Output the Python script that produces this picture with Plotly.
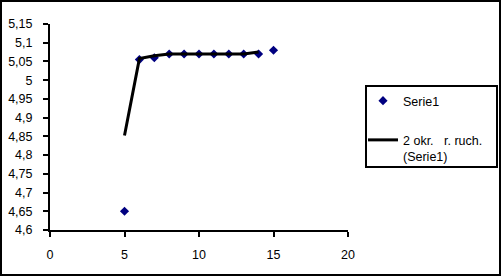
import plotly.graph_objects as go

x_vals = [5, 6, 7, 8, 9, 10, 11, 12, 13, 14, 15]
y_vals = [4.65, 5.055, 5.06, 5.07, 5.07, 5.07, 5.07, 5.07, 5.07, 5.07, 5.08]
series_name = "Serie1"
ma_name = "2 okr.   r. ruch.<br>(Serie1)"

# 2-period moving average, plotted as in the source chart
ma_x = x_vals[:-1]
ma_y = [(y_vals[i] + y_vals[i + 1]) / 2 for i in range(len(y_vals) - 1)]

fig = go.Figure()
fig.add_trace(go.Scatter(x=x_vals, y=y_vals, mode="markers", name=series_name,
                         legendgroup="a",
                         marker=dict(symbol="diamond", size=7, color="#000080"),
                         cliponaxis=False))
fig.add_trace(go.Scatter(x=ma_x, y=ma_y, mode="lines", name=ma_name,
                         legendgroup="b",
                         line=dict(color="black", width=3)))

L, R, T, B = 50, 155, 24, 47
W, H = 503, 277
pw, ph = W - L - R, H - T - B

def px_x(v):
    return (v - L) / pw

def px_y(v):
    return (H - B - v) / ph

fig.update_layout(
    width=W, height=H,
    margin=dict(l=L, r=R, t=T, b=B, autoexpand=False),
    paper_bgcolor="white", plot_bgcolor="white",
    separators=", ",
    font=dict(family="Liberation Sans, Arial", size=12.5, color="black"),
    showlegend=True,
    legend=dict(x=px_x(363), y=px_y(86), xanchor="left", yanchor="top",
                borderwidth=0, bgcolor="rgba(0,0,0,0)",
                font=dict(size=12.5), tracegroupgap=20, itemwidth=30, valign="top"),
    xaxis=dict(range=[0, 20], dtick=5, tick0=0, showgrid=False, zeroline=False,
               showline=True, linecolor="black", linewidth=2, ticklabelstandoff=7,
               ticks="outside", ticklen=5, tickwidth=2, tickcolor="black"),
    yaxis=dict(range=[4.6, 5.15], dtick=0.05, tick0=4.6, showgrid=False, zeroline=False,
               showline=True, linecolor="black", linewidth=2, ticklabelstandoff=8,
               ticks="outside", ticklen=5, tickwidth=2, tickcolor="black"),
    shapes=[
        dict(type="rect", xref="paper", yref="paper",
             x0=px_x(1), x1=px_x(500), y0=px_y(275), y1=px_y(1),
             line=dict(color="black", width=2), fillcolor="rgba(0,0,0,0)"),
        dict(type="rect", xref="paper", yref="paper",
             x0=px_x(366), x1=px_x(497), y0=px_y(167), y1=px_y(86),
             line=dict(color="black", width=2), fillcolor="rgba(0,0,0,0)"),
    ],
)

fig.write_html("out.html")
